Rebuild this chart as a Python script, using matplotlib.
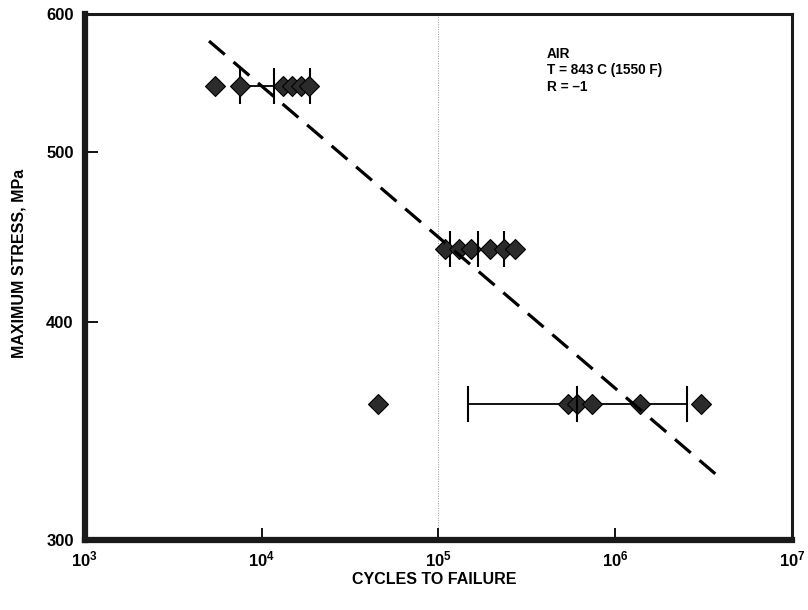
import numpy as np
import matplotlib
matplotlib.use('Agg')
import matplotlib.pyplot as plt
from matplotlib.ticker import NullLocator

plt.rcParams['font.family'] = ['Liberation Sans', 'DejaVu Sans']
plt.rcParams['font.weight'] = 'bold'
plt.rcParams['mathtext.fontset'] = 'custom'
plt.rcParams['mathtext.bf'] = 'Liberation Sans:bold'
plt.rcParams['mathtext.rm'] = 'Liberation Sans:bold'
plt.rcParams['mathtext.default'] = 'bf'

# test points at the three stress levels (MPa, cycles)
stress_546 = 546
cycles_546 = [5440, 7540, 13280, 14830, 16670, 18630]
stress_440 = 440
cycles_440 = [108900, 130700, 152800, 195500, 234800, 271200]
stress_359 = 359
cycles_359 = [45500, 540600, 608000, 738600, 1380000, 3080000]

# scatter bands: low / mean / high life
band_stress = [546, 440, 359]
band_low = [7540, 116100, 146900]
band_mid = [11720, 167100, 608000]
band_high = [18750, 234800, 2547000]

# dashed fit line
fit_cycles = [5040, 3860000]
fit_stress = [579, 326]

xticks = [1e3, 1e4, 1e5, 1e6, 1e7]
xlabels = [r'$10^{3}$', r'$10^{4}$', r'$10^{5}$', r'$10^{6}$', r'$10^{7}$']
yticks = [300, 400, 500, 600]
ylabels = ['300', '400', '500', '600']

fig = plt.figure(figsize=(8.08, 6.10), dpi=100)
ax = fig.add_axes([0.105, 0.115, 0.875, 0.862])
ax.set_xscale('log')
ax.set_yscale('log')
ax.set_xlim(1e3, 1e7)
ax.set_ylim(300, 600)

ax.axvline(1e5, color='0.6', lw=0.7, ls=(0, (1, 1.5)), zorder=0)

mid = np.array(band_mid)
xerr = [mid - np.array(band_low), np.array(band_high) - mid]
ax.errorbar(band_mid, band_stress, xerr=xerr, fmt='none', ecolor='k',
            elinewidth=1.3, capsize=13, capthick=1.5, zorder=2)
ax.plot(band_mid, band_stress, ls='none', marker='|', ms=26, mew=1.5,
        color='k', zorder=4)

for s, c in [(stress_546, cycles_546), (stress_440, cycles_440),
             (stress_359, cycles_359)]:
    ax.plot(c, [s] * len(c), ls='none', marker='D', ms=10,
            mfc='#2b2b2b', mec='k', mew=0.8, zorder=3)

ax.plot(fit_cycles, fit_stress, color='k', lw=2.3, ls=(0, (6.5, 3.6)), zorder=5)

ax.text(0.653, 0.937, 'AIR\nT = 843 C (1550 F)\nR = \u20131', transform=ax.transAxes,
        fontsize=9.8, fontweight='bold', va='top', ha='left', linespacing=1.2)

ax.set_xticks(xticks)
ax.set_xticklabels(xlabels)
ax.set_yticks(yticks)
ax.set_yticklabels(ylabels)
ax.xaxis.set_minor_locator(NullLocator())
ax.yaxis.set_minor_locator(NullLocator())
ax.tick_params(axis='x', direction='in', length=9, width=1.3, pad=7, labelsize=12)
ax.tick_params(axis='y', direction='in', length=9, width=1.3, pad=8, labelsize=12)
ax.tick_params(top=False, right=False)

for side in ['left', 'bottom']:
    ax.spines[side].set_linewidth(4.5)
    ax.spines[side].set_color('#1a1a1a')
for side in ['top', 'right']:
    ax.spines[side].set_linewidth(2.2)
    ax.spines[side].set_color('#1a1a1a')

ax.set_xlabel('CYCLES TO FAILURE', fontsize=11.5, fontweight='bold', va='top')
ax.xaxis.set_label_coords(0.494, -0.061)
ax.set_ylabel('MAXIMUM STRESS, MPa', fontsize=11.5, fontweight='bold')
ax.yaxis.set_label_coords(-0.082, 0.525)

fig.savefig('out.png', dpi=100)
